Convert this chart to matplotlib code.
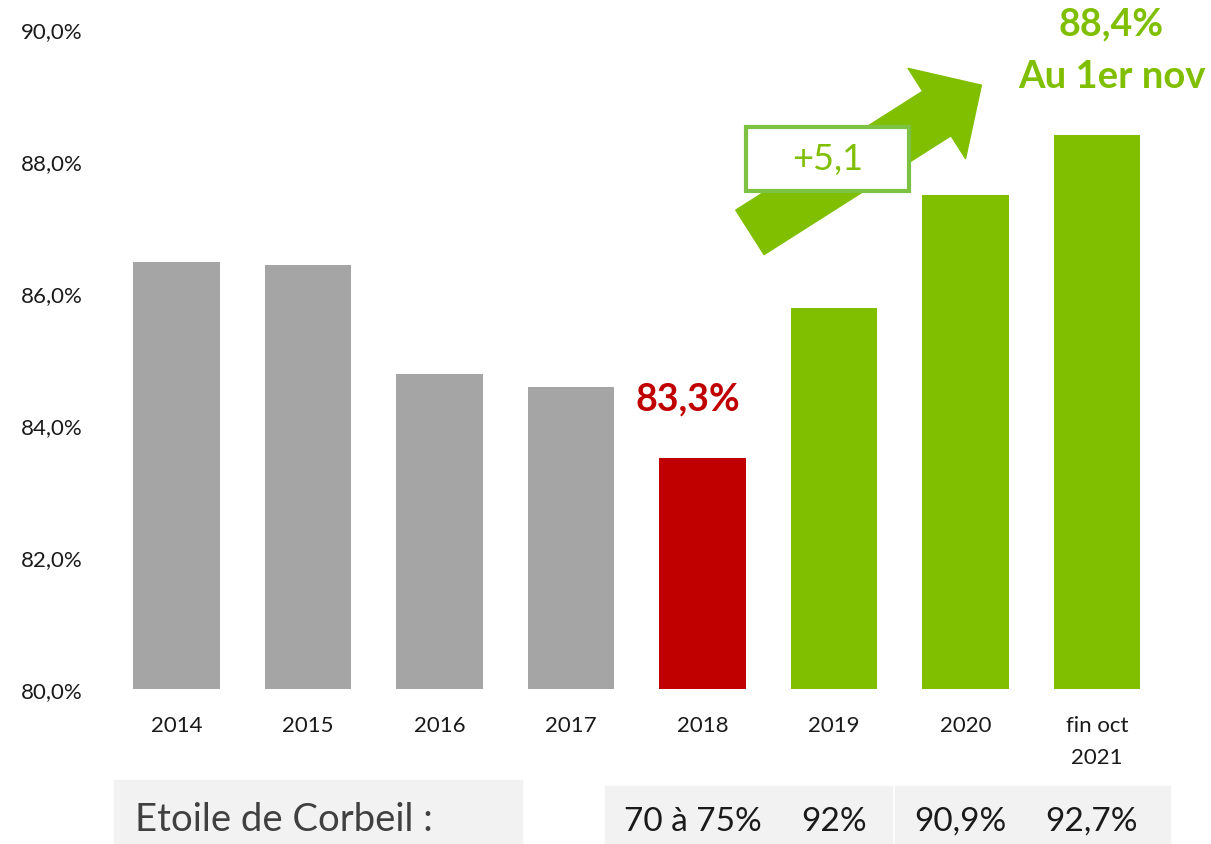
import matplotlib.pyplot as plt
from matplotlib.patches import FancyArrowPatch, Rectangle
from matplotlib.transforms import blended_transform_factory

# Chart data
categories = ["2014", "2015", "2016", "2017", "2018", "2019", "2020", "fin oct\n2021"]
values = [86.47, 86.42, 84.78, 84.58, 83.5, 85.78, 87.48, 88.4]
bar_colors = ["#a5a5a5"] * 4 + ["#c00000"] + ["#80bf00"] * 3
y_ticks = [80, 82, 84, 86, 88, 90]
y_tick_labels = ["80,0%", "82,0%", "84,0%", "86,0%", "88,0%", "90,0%"]

# Bottom comparison row
corbeil_label = "Etoile de Corbeil :"
corbeil_values = ["70 à 75%", "92%", "90,9%", "92,7%"]
corbeil_positions = [4, 5, 6, 7]

GREEN = "#80bf00"
RED = "#c00000"
plt.rcParams["font.family"] = ["Lato", "DejaVu Sans"]


def main():
    fig = plt.figure(figsize=(12.11, 8.45), dpi=100)
    ax = fig.add_axes([0.0806, 0.1834, 0.8905, 0.781])

    x = list(range(len(categories)))
    ax.bar(x, values, width=0.66, color=bar_colors, bottom=0)
    ax.set_xlim(-0.6, 7.6)
    ax.set_ylim(80, 90)
    ax.set_yticks(y_ticks)
    ax.set_yticklabels(y_tick_labels, fontsize=16, color="#1a1a1a")
    ax.set_xticks(x)
    ax.set_xticklabels(categories, fontsize=16, color="#1a1a1a", linespacing=1.75)
    ax.tick_params(length=0)
    ax.tick_params(axis="y", pad=11)
    ax.tick_params(axis="x", pad=19)
    for s in ax.spines.values():
        s.set_visible(False)

    # highlight labels
    ax.text(3.89, 84.4, "83,3%", color=RED, fontsize=27, fontweight="bold",
            ha="center", va="center")
    ax.text(7.11, 90.08, "88,4%", color=GREEN, fontsize=27, fontweight="bold",
            ha="center", va="center", clip_on=False)
    ax.text(7.11, 89.29, "Au 1er nov", color=GREEN, fontsize=27.5, fontweight="bold",
            ha="center", va="center", clip_on=False)

    # trend arrow
    arrow = FancyArrowPatch((4.36, 86.92), (6.12, 89.15),
                            arrowstyle="simple,head_width=77,head_length=38,tail_width=38",
                            mutation_scale=1, color=GREEN, shrinkA=0, shrinkB=0,
                            clip_on=False, zorder=3)
    ax.add_patch(arrow)
    ax.add_patch(Rectangle((4.33, 87.55), 1.24, 0.97, facecolor="white",
                           edgecolor="#7dc242", linewidth=3, zorder=4, clip_on=False))
    ax.text(4.95, 88.04, "+5,1", color=GREEN, fontsize=26, ha="center",
            va="center", zorder=5)

    # Etoile de Corbeil comparison row
    fig.add_artist(Rectangle((114 / 1211, 0), 408 / 1211, 64 / 845,
                             transform=fig.transFigure, color="#f2f2f2", zorder=0))
    fig.add_artist(Rectangle((605 / 1211, 0), 287 / 1211, 58 / 845,
                             transform=fig.transFigure, color="#f2f2f2", zorder=0))
    fig.add_artist(Rectangle((895 / 1211, 0), 275 / 1211, 58 / 845,
                             transform=fig.transFigure, color="#f2f2f2", zorder=0))
    fig.text(135 / 1211, (845 - 820) / 845, corbeil_label, fontsize=27.5,
             color="#404040", ha="left", va="center")
    trans = blended_transform_factory(ax.transData, fig.transFigure)
    offsets = [-0.07, 0, -0.04, -0.04]
    for pos, val, off in zip(corbeil_positions, corbeil_values, offsets):
        ax.text(pos + off, (845 - 822) / 845, val, transform=trans, fontsize=24,
                color="#1a1a1a", ha="center", va="center", clip_on=False)

    fig.savefig("out.png", dpi=100)


if __name__ == "__main__":
    main()
